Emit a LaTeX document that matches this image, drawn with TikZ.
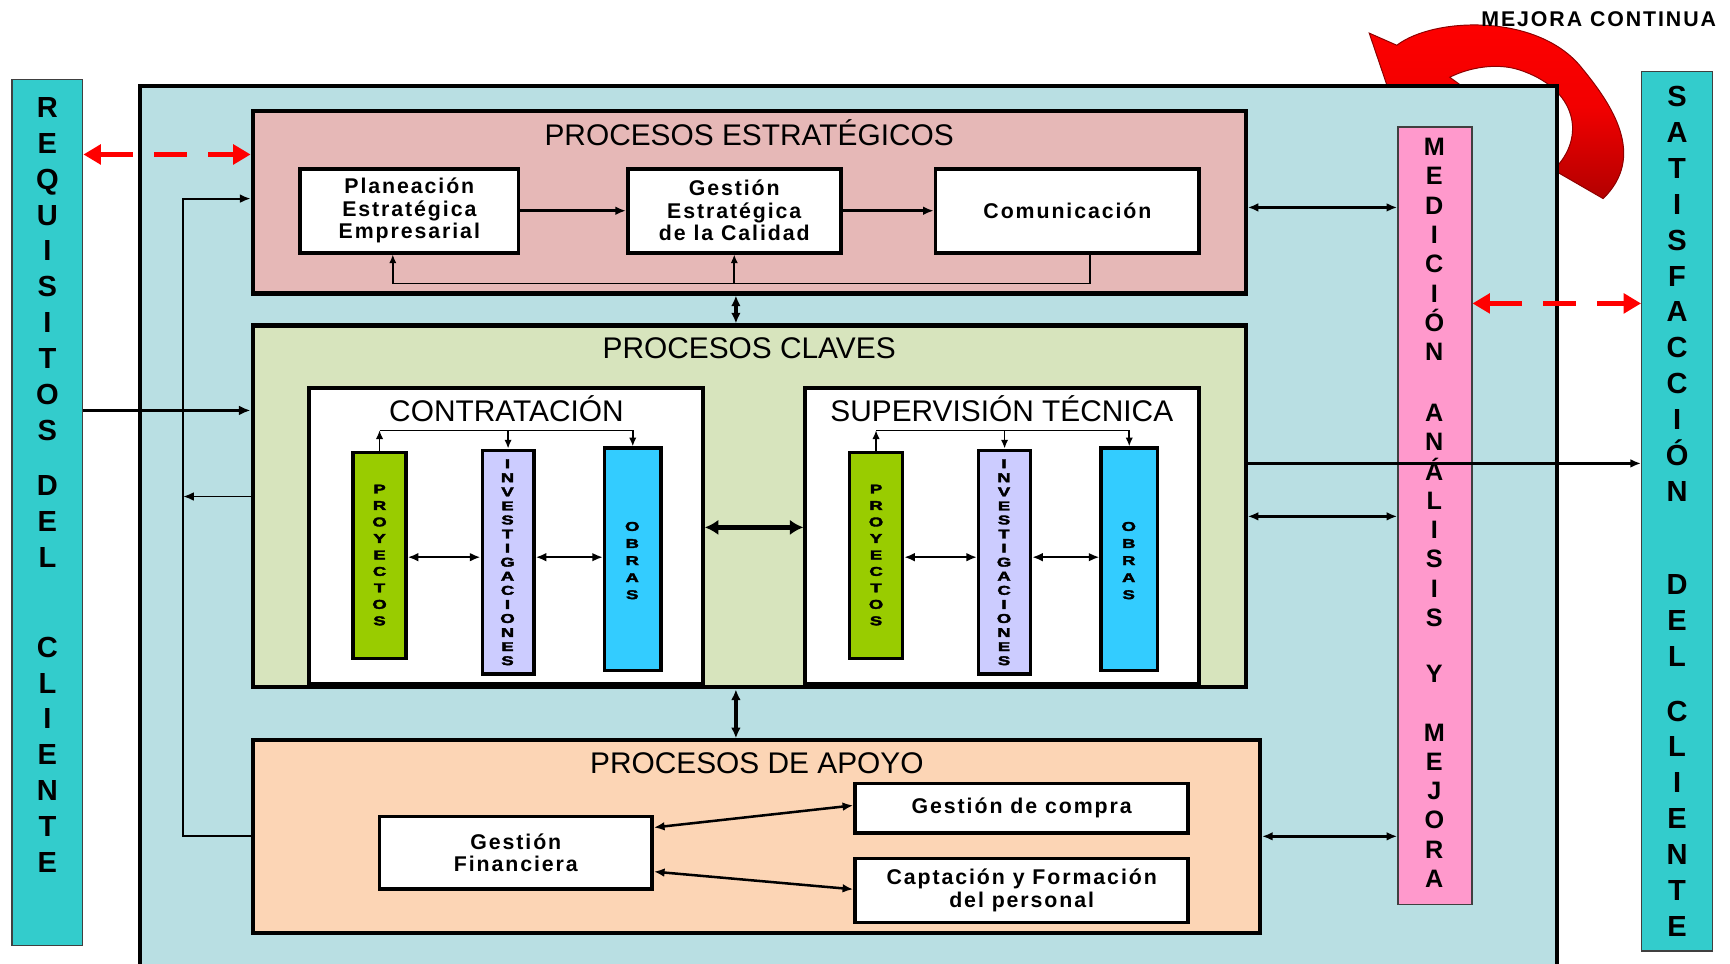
\documentclass[tikz,border=0pt]{standalone}
\usepackage{fontspec}
\usepackage{graphicx}
\setmainfont{Liberation Sans}
\newfontfamily\lblfont[LetterSpace=9]{Liberation Sans}
\newfontfamily\heavyfont[FakeBold=2.5]{Liberation Sans Bold}
\usetikzlibrary{arrows.meta,calc}

\definecolor{mainbg}{HTML}{B9DFE3}
\definecolor{tealbar}{HTML}{33CCCC}
\definecolor{pinkbar}{HTML}{FF99CC}
\definecolor{estrfill}{HTML}{E6B8B7}
\definecolor{clavfill}{HTML}{D7E4BD}
\definecolor{apoyofill}{HTML}{FCD5B5}
\definecolor{proyfill}{HTML}{99CC00}
\definecolor{invfill}{HTML}{CCCCFF}
\definecolor{obrafill}{HTML}{33CCFF}
\definecolor{arrowred}{HTML}{FF0000}

% box from its corners: name, x1, y1, x2, y2, style, text
\newcommand\mkbox[7]{%
  \node[#6, minimum width={(#4-#2)*0.02cm}, minimum height={(#5-#3)*0.02cm}]
    (#1) at ({(#2+#4)/2},{(#3+#5)/2}) {#7};}
% widened stack of small heavy capitals: baseline skip, letters
\newcommand\widestack[2]{%
  \scalebox{1.45}[1]{\heavyfont\fontsize{6.6}{#1}\selectfont
    \begin{tabular}{@{}c@{}}#2\end{tabular}}}

\tikzset{
  region/.style={draw, line width=2.1pt, inner sep=0pt},
  whitebox/.style={draw, fill=white, line width=1.9pt, inner sep=0pt, align=center,
    font=\lblfont\bfseries\fontsize{11}{11.6}\selectfont},
  colbar/.style={draw, line width=1.7pt, inner sep=0pt},
  sidebar/.style={draw=black!75, line width=0.7pt, inner sep=0pt},
  heading/.style={font=\fontsize{15.4}{16}\selectfont, anchor=base, inner sep=0pt},
  bigletters/.style={font=\bfseries\fontsize{15}{18.5}\selectfont, align=center, inner sep=0pt, anchor=north},
  medletters/.style={font=\bfseries\fontsize{13}{15.1}\selectfont, align=center, inner sep=0pt, anchor=north},
  tinyletters/.style={inner sep=0pt},
  conn/.style={line width=1.3pt, -{Latex[length=5.5pt,width=4.5pt]}},
  thinconn/.style={line width=1pt, -{Latex[length=5.5pt,width=4.5pt]}},
  dconn/.style={line width=1.3pt, {Latex[length=5.5pt,width=4.5pt]}-{Latex[length=5.5pt,width=4.5pt]}},
  fbline/.style={line width=0.8pt, -{Latex[length=4.5pt,width=3.8pt]}},
  vconn/.style={line width=1.7pt, {Latex[length=5.5pt,width=5pt]}-{Latex[length=5.5pt,width=5pt]}},
  thickconn/.style={line width=2.8pt, {Latex[length=7pt,width=8pt]}-{Latex[length=7pt,width=8pt]}},
  reddash/.style={draw=arrowred, line width=2.8pt, dash pattern=on 17pt off 11pt,
    {Triangle[length=9pt,width=10pt]}-{Triangle[length=9pt,width=10pt]}},
}

\begin{document}
\begin{tikzpicture}[x=0.02cm, y=-0.02cm]
\useasboundingbox (0,0) rectangle (1568,873);
\fill[white] (0,0) rectangle (1568,873);
\clip (0,0) rectangle (1568,873);

% horizontal levels used by the connectors
\foreach \yy in {140,180,188,257,275,372,390,420,450,468,478,505,730,750,758,790,806}
  {\coordinate (y\yy) at (0,\yy);}
\coordinate (x667) at (667,0);
\coordinate (fbR) at (988,257);
\coordinate (fbL) at (356,257);
\coordinate (lfTop) at (166,180);
\coordinate (lfBot) at (166,758);

% continuous improvement arrow (behind the frame)
\shade[top color=arrowred, bottom color=arrowred!70!black, middle color=arrowred!95!black,
       draw=arrowred!55!black, line width=0.5pt]
  (1241,30) -- (1266,41)
  .. controls (1300,15) and (1395,12) .. (1434,62)
  .. controls (1462,96) and (1492,142) .. (1453,180)
  -- (1408,154)
  .. controls (1438,125) and (1430,80) .. (1376,63)
  .. controls (1356,57) and (1332,61) .. (1314,70)
  -- (1336,86) -- (1260,86) -- cycle;
\node[font=\lblfont\bfseries\fontsize{11}{12}\selectfont, anchor=base, inner sep=0pt]
  (mejora) at (1449,24) {MEJORA CONTINUA};

% outer frame and side bars
\mkbox{frame}{127}{78}{1411}{905}{region, fill=mainbg}{}
\mkbox{req}{11}{72}{75}{857}{sidebar, fill=tealbar}{}
\mkbox{sat}{1488}{65}{1552}{862}{sidebar, fill=tealbar}{}
\mkbox{med}{1267}{115}{1334}{820}{sidebar, fill=pinkbar}{}

\node[bigletters] (reqtxt) at (43,88)
  {R\\E\\Q\\U\\I\\S\\I\\T\\O\\S\\[9.9pt]D\\E\\L\\[28pt]C\\L\\I\\E\\N\\T\\E};
\node[bigletters] (sattxt) at (1520,78)
  {S\\A\\T\\I\\S\\F\\A\\C\\C\\I\\Ó\\N\\[29.5pt]D\\E\\L\\[9.9pt]C\\L\\I\\E\\N\\T\\E};
\node[medletters] (medtxt) at (1300,125)
  {M\\E\\D\\I\\C\\I\\Ó\\N\\[16.4pt]A\\N\\Á\\L\\I\\S\\I\\S\\[13.9pt]Y\\[15pt]M\\E\\J\\O\\R\\A};

% strategic processes
\mkbox{estr}{229}{101}{1129}{266}{region, fill=estrfill}{}
\node[heading] (estrtit) at (679,131.7) {PROCESOS ESTRATÉGICOS};
\mkbox{plan}{272}{153}{470}{229}{whitebox}{Planeación\\Estratégica\\Empresarial}
\mkbox{gest}{569}{153}{762}{229}{whitebox}{Gestión\\Estratégica\\de la Calidad}
\mkbox{com}{848}{153}{1087}{229}{whitebox}{Comunicación}

% key processes
\mkbox{clav}{229}{295}{1129}{623}{region, fill=clavfill}{}
\node[heading] (clavtit) at (679,324.7) {PROCESOS CLAVES};
\mkbox{cont}{280}{352}{637}{620}{region, fill=white}{}
\node[heading] (conttit) at (459,381.7) {CONTRATACIÓN};
\mkbox{sup}{730}{352}{1087}{620}{region, fill=white}{}
\node[heading] (suptit) at (908,381.7) {SUPERVISIÓN TÉCNICA};

\mkbox{p1}{320}{410}{368}{597}{colbar, fill=proyfill}{}
\mkbox{i1}{437}{408}{484}{611}{colbar, fill=invfill}{}
\mkbox{o1}{548}{406}{599}{608}{colbar, fill=obrafill}{}
\mkbox{p2}{770}{410}{818}{597}{colbar, fill=proyfill}{}
\mkbox{i2}{887}{408}{934}{611}{colbar, fill=invfill}{}
\mkbox{o2}{998}{406}{1049}{608}{colbar, fill=obrafill}{}

\node[tinyletters] (p1txt) at (344,504) {\widestack{8.5pt}{P\\R\\O\\Y\\E\\C\\T\\O\\S}};
\node[tinyletters] (i1txt) at (460,511) {\widestack{7.26pt}{I\\N\\V\\E\\S\\T\\I\\G\\A\\C\\I\\O\\N\\E\\S}};
\node[tinyletters] (o1txt) at (573,509) {\widestack{8.8pt}{O\\B\\R\\A\\S}};
\node[tinyletters] (p2txt) at (794,504) {\widestack{8.5pt}{P\\R\\O\\Y\\E\\C\\T\\O\\S}};
\node[tinyletters] (i2txt) at (910,511) {\widestack{7.26pt}{I\\N\\V\\E\\S\\T\\I\\G\\A\\C\\I\\O\\N\\E\\S}};
\node[tinyletters] (o2txt) at (1023,509) {\widestack{8.8pt}{O\\B\\R\\A\\S}};

% support processes
\mkbox{apoyo}{229}{671}{1142}{846}{region, fill=apoyofill}{}
\node[heading] (apoyotit) at (686,700.7) {PROCESOS DE APOYO};
\mkbox{fin}{344}{740}{591}{806}{whitebox}{Gestión\\Financiera}
\mkbox{compra}{775}{710}{1077}{755}{whitebox}{Gestión de compra}
\mkbox{capt}{775}{778}{1077}{836}{whitebox}{Captación y Formación\\del personal}

% connectors inside the strategic block
\draw[conn] (plan.east) -- (gest.west);
\draw[conn] (gest.east) -- (com.west);
\draw[fbline] (com.south -| fbR) -- (fbR) -- (fbL) -- (plan.south -| fbL);
\draw[fbline] (gest.south |- fbR) -- (gest.south);

% connectors inside the key-process boxes
\foreach \pp/\ii/\oo in {p1/i1/o1, p2/i2/o2}{
  \draw[fbline] (\pp.north) -- (\pp.north |- y390);
  \draw[line width=0.8pt] (\pp.north |- y390) -- (\oo.north |- y390);
  \draw[fbline] (\ii.north |- y390) -- (\ii.north);
  \draw[fbline] (\oo.north |- y390) -- (\oo.north);
  \draw[dconn] (\pp.east |- y505) -- (\ii.west |- y505);
  \draw[dconn] (\ii.east |- y505) -- (\oo.west |- y505);
}
\draw[thickconn] (cont.east |- y478) -- (sup.west |- y478);

% connectors between blocks
\draw[vconn] (estr.south -| x667) -- (clav.north -| x667);
\draw[vconn] (clav.south -| x667) -- (apoyo.north -| x667);
\draw[dconn] (fin.east |- y750) -- (compra.west |- y730);
\draw[dconn] (fin.east |- y790) -- (capt.west |- y806);

% left side
\draw[reddash] (req.east |- y140) -- (estr.west |- y140);
\draw[line width=1.6pt, -{Latex[length=6pt,width=5pt]}] (req.east |- y372) -- (clav.west |- y372);
\draw[thinconn] (apoyo.west |- lfBot) -- (lfBot) -- (lfTop) -- (estr.west |- lfTop);
\draw[thinconn] (clav.west |- y450) -- (lfTop |- y450);

% right side
\draw[dconn] (estr.east |- y188) -- (med.west |- y188);
\draw[dconn] (clav.east |- y468) -- (med.west |- y468);
\draw[dconn] (apoyo.east |- y758) -- (med.west |- y758);
\draw[conn] (clav.east |- y420) -- (sat.west |- y420);
\draw[reddash] (med.east |- y275) -- (sat.west |- y275);
\end{tikzpicture}
\end{document}
